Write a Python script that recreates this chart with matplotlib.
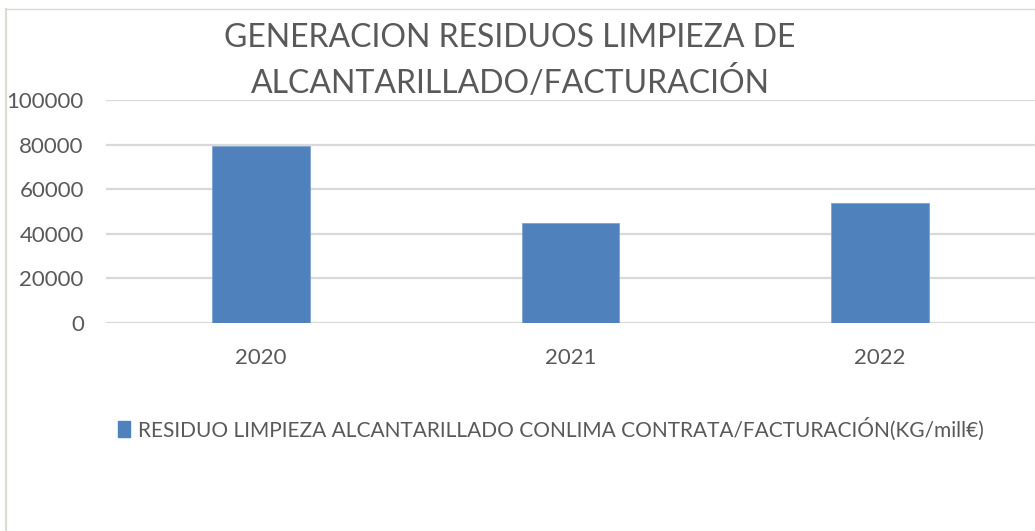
import matplotlib
matplotlib.use("Agg")
import matplotlib.pyplot as plt
from matplotlib.lines import Line2D

# data
years = ["2020", "2021", "2022"]
residuo_kg_mill = [79500, 44800, 53700]
y_ticks = [0, 20000, 40000, 60000, 80000, 100000]

title_text = "GENERACION RESIDUOS LIMPIEZA DE\nALCANTARILLADO/FACTURACIÓN"
legend_label = "RESIDUO LIMPIEZA ALCANTARILLADO CONLIMA CONTRATA/FACTURACIÓN(KG/mill€)"

text_gray = "#595959"
bar_blue = "#4f81bd"
grid_gray = "#d9d9d9"

plt.rcParams['font.family'] = ['Lato', 'DejaVu Sans']

fig = plt.figure(figsize=(10.35, 5.31), dpi=100)
ax = fig.add_axes([106 / 1035, 1 - 323 / 531, 929 / 1035, 223 / 531])

x = range(len(years))
ax.bar(x, residuo_kg_mill, width=0.315, color=bar_blue, edgecolor="#7fa3d0", linewidth=0.6, zorder=3)

ax.set_xlim(-0.5, len(years) - 0.5)
ax.set_ylim(0, 100000)
ax.set_yticks(y_ticks)
ax.set_yticklabels([str(v) for v in y_ticks])
ax.set_xticks(list(x))
ax.set_xticklabels(years)
ax.tick_params(axis="both", length=0, labelsize=16, labelcolor=text_gray)
ax.tick_params(axis="y", pad=16)
ax.tick_params(axis="x", pad=18)
ax.grid(axis="y", color=grid_gray, linewidth=1.6, zorder=0)
for s in ax.spines.values():
    s.set_visible(False)

# title (two lines)
fig.text(510 / 1035, 1 - 61 / 531, title_text, ha="center", va="center",
         fontsize=23, color=text_gray, linespacing=1.5,
         family=['Liberation Sans Narrow', 'Lato', 'DejaVu Sans'])

# legend entry
handle = plt.Rectangle((0, 0), 1, 1, color=bar_blue)
leg = fig.legend([handle], [legend_label], loc="center left", bbox_to_anchor=(99 / 1035, 1 - 429 / 531),
                 frameon=False, handlelength=0.6, handleheight=0.8, handletextpad=0.35,
                 prop={'family': ['Liberation Sans Narrow', 'Lato', 'DejaVu Sans'], 'size': 15.0})
for t in leg.get_texts():
    t.set_color(text_gray)

# chart frame lines (left and top)
fig.add_artist(Line2D([5.5 / 1035, 5.5 / 1035], [0, 1 - 9 / 531], color="#dcdcd2", linewidth=1.6))
fig.add_artist(Line2D([5.5 / 1035, 1], [1 - 9 / 531, 1 - 9 / 531], color="#d9d9d9", linewidth=1.0))

fig.savefig("out.png", dpi=100)
